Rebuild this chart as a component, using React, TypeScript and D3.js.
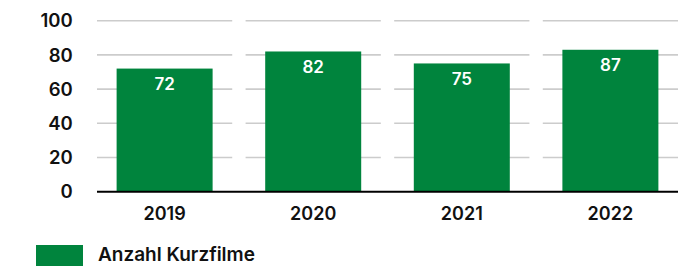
import React from "react";
import * as d3 from "d3";

const years = ["2019", "2020", "2021", "2022"];
const barValues = [72, 82, 75, 83];
const valueLabels = ["72", "82", "75", "87"];
const yTicks = [0, 20, 40, 60, 80, 100];
const seriesName = "Anzahl Kurzfilme";

const W = 684;
const H = 266;
const GREEN = "#00843d";
const FONT = "Inter, 'Noto Sans', sans-serif";

export default function App() {
  const x = d3.scaleBand<string>().domain(years).range([97, 678]).paddingInner(0.09).paddingOuter(0);
  const y = d3.scaleLinear().domain([0, 100]).range([191.7, 20.7]);
  const barW = 96;

  return (
    <svg width={W} height={H} style={{ position: "absolute", left: 0, top: 0, background: "#fff" }}>
      {yTicks.filter((t) => t > 0).map((t) =>
        years.map((yr) => (
          <line
            key={`g${t}${yr}`}
            x1={x(yr)!}
            x2={x(yr)! + x.bandwidth()}
            y1={y(t)}
            y2={y(t)}
            stroke="#cccccc"
            strokeWidth={1.6}
          />
        ))
      )}
      {yTicks.map((t) => (
        <text
          key={`t${t}`}
          x={72.7}
          y={y(t)}
          dy="0.36em"
          textAnchor="end"
          fontFamily={FONT}
          fontWeight={600}
          fontSize={18.5}
          fill="#111"
        >
          {t}
        </text>
      ))}
      {years.map((yr, i) => {
        const cx = x(yr)! + x.bandwidth() / 2;
        return (
          <g key={yr}>
            <rect x={cx - barW / 2} y={y(barValues[i])} width={barW} height={y(0) - y(barValues[i])} fill={GREEN} />
            <text
              x={cx}
              y={y(barValues[i]) + 21.5}
              textAnchor="middle"
              fontFamily={FONT}
              fontWeight={600}
              fontSize={17}
              fill="#fff"
            >
              {valueLabels[i]}
            </text>
            <text x={cx} y={220} textAnchor="middle" fontFamily={FONT} fontWeight={600} fontSize={18} fill="#111">
              {yr}
            </text>
          </g>
        );
      })}
      <line x1={97} x2={678} y1={y(0)} y2={y(0)} stroke="#000" strokeWidth={2} />
      <rect x={36} y={245} width={47} height={30} fill={GREEN} />
      <text x={98} y={261} fontFamily={FONT} fontWeight={600} fontSize={19} fill="#111">
        {seriesName}
      </text>
    </svg>
  );
}
